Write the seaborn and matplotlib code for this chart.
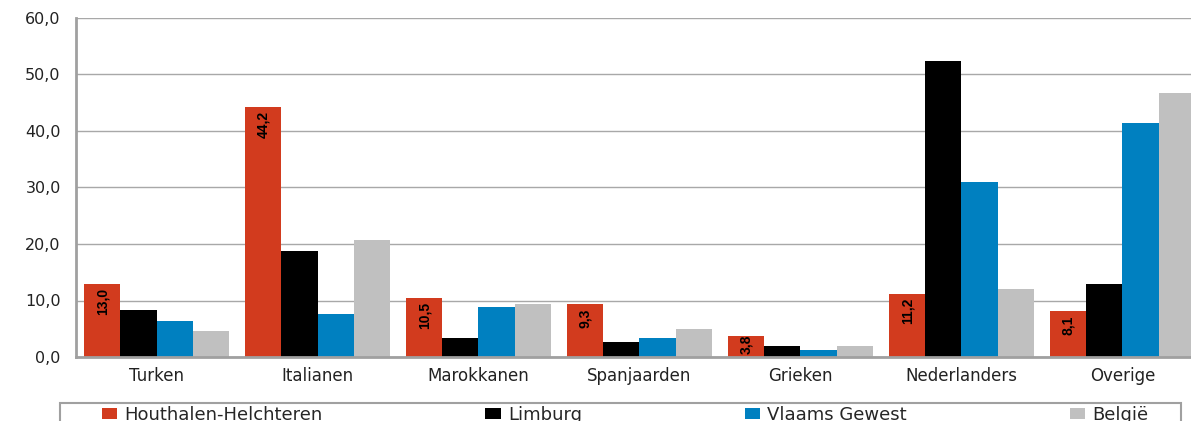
import pandas as pd
import matplotlib.pyplot as plt
import seaborn as sns
from matplotlib.patches import Rectangle
from matplotlib.ticker import FuncFormatter, FixedLocator

sns.set_style("white")
plt.rcParams['font.family'] = ['DejaVu Sans']

# data (percentages)
herkomst = ["Turken", "Italianen", "Marokkanen", "Spanjaarden", "Grieken", "Nederlanders", "Overige"]
regios = ["Houthalen-Helchteren", "Limburg", "Vlaams Gewest", "België"]
houthalen = [13.0, 44.2, 10.5, 9.3, 3.8, 11.2, 8.1]
limburg = [8.3, 18.8, 3.4, 2.7, 1.9, 52.4, 12.9]
vlaanderen = [6.4, 7.6, 8.9, 3.4, 1.3, 31.0, 41.4]
belgie = [4.6, 20.7, 9.4, 5.0, 1.9, 12.0, 46.7]

colors = ["#D23B1E", "#000000", "#0080C0", "#C0C0C0"]

rows = []
for regio, vals in zip(regios, [houthalen, limburg, vlaanderen, belgie]):
    for h, v in zip(herkomst, vals):
        rows.append({"herkomst": h, "regio": regio, "pct": v})
df = pd.DataFrame(rows)

W, H = 1191, 421
fig = plt.figure(figsize=(W / 100, H / 100), dpi=100)
ax = fig.add_axes([76 / W, (H - 357) / H, (1203 - 76) / W, 339 / H])

sns.barplot(data=df, x="herkomst", y="pct", hue="regio", palette=colors,
            width=0.9, gap=0, saturation=1, linewidth=0, ax=ax)

ax.set_xlim(-0.5, len(herkomst) - 0.5)
ax.set_ylim(0, 60)
ax.set_yticks(range(0, 61, 10))
ax.yaxis.set_major_formatter(FuncFormatter(lambda y, _: f"{y:.1f}".replace(".", ",")))
ax.set_xlabel("")
ax.set_ylabel("")

# gridlines and axes
ax.grid(axis="y", color="#A8A8A8", linewidth=1.0)
ax.set_axisbelow(True)
for side in ["top", "right"]:
    ax.spines[side].set_visible(False)
for side in ["left", "bottom"]:
    ax.spines[side].set_color("#A0A0A0")
    ax.spines[side].set_linewidth(2)

ax.tick_params(axis="y", which="major", length=5, width=1, color="#A0A0A0",
               pad=6, labelsize=11.5, labelcolor="#222222")
ax.tick_params(axis="x", which="major", length=0, pad=7, labelsize=12, labelcolor="#222222")
ax.xaxis.set_minor_locator(FixedLocator([i + 0.5 for i in range(-1, len(herkomst))]))
ax.tick_params(axis="x", which="minor", length=5, width=1.5, color="#A0A0A0")

# value labels inside the red bars (short bars: label starts at the bar top)
for bar, v in zip(ax.containers[0], houthalen):
    offset = -3 if v > 5 else 1
    ax.annotate(f"{v:.1f}".replace(".", ","),
                (bar.get_x() + bar.get_width() / 2, bar.get_height()),
                xytext=(0, offset), textcoords="offset points",
                rotation=90, ha="center", va="top",
                fontsize=10, fontweight="bold", family="Liberation Sans", color="black")

# legend along the bottom edge
handles, labels = ax.get_legend_handles_labels()
ax.legend_.remove()
fig.legend(handles, labels, ncol=4, mode="expand", frameon=False,
           loc="upper left", bbox_to_anchor=(100 / W, 0, (1150 - 100) / W, (H - 404) / H),
           fontsize=13, handlelength=0.85, handleheight=0.6, handletextpad=0.4,
           borderpad=0.1, borderaxespad=0)
fig.patches.append(Rectangle((60 / W, -0.05), (1181 - 60) / W, 0.05 + (H - 403) / H,
                             transform=fig.transFigure, fill=False,
                             edgecolor="#A0A0A0", linewidth=1.5))

fig.savefig("out.png", dpi=100)
